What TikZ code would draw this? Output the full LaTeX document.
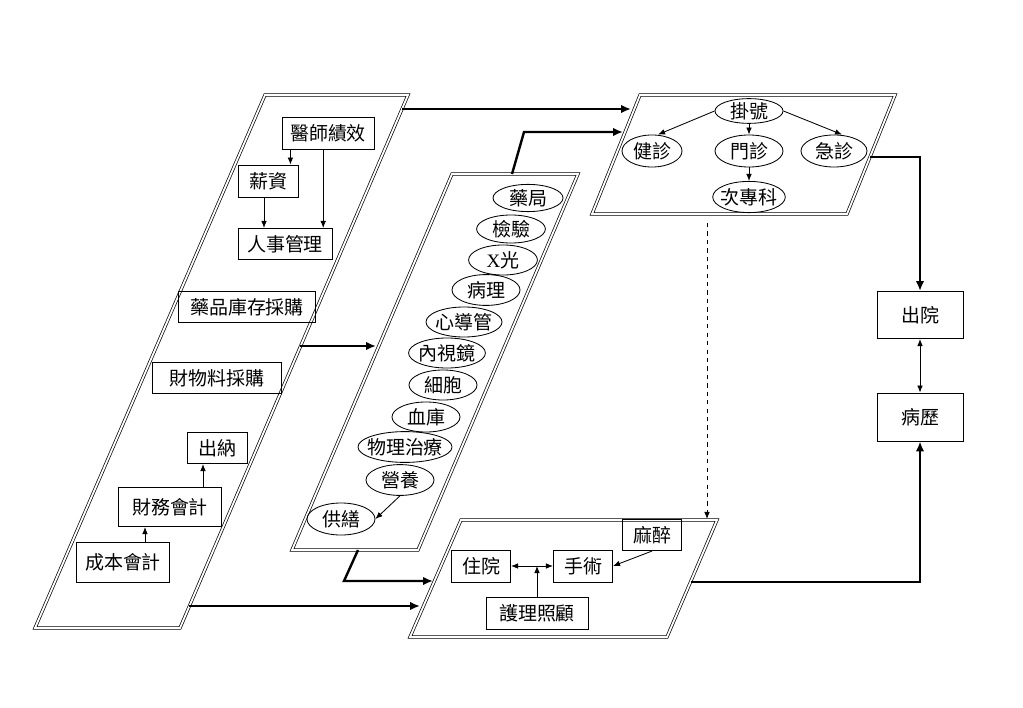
\documentclass[tikz,border=0pt]{standalone}
\usepackage{fontspec}
\setmainfont{Noto Sans CJK TC}
\newfontfamily\latin{Liberation Serif}
\usetikzlibrary{shapes.geometric, arrows.meta}

\tikzset{
  box/.style={draw, line width=0.6pt, inner sep=0pt, font=\fontsize{13.5}{15}\selectfont},
  oval/.style={draw, ellipse, line width=0.6pt, inner sep=0pt, font=\fontsize{13.5}{15}\selectfont},
  panel/.style={draw=black, double=white, double distance=1.3pt, line width=0.5pt},
  flow/.style={-{Latex[length=7pt,width=6pt]}, line width=1.7pt},
  link/.style={-{Latex[length=5pt,width=4pt]}, line width=0.6pt},
  twoway/.style={{Latex[length=5pt,width=4pt]}-{Latex[length=5pt,width=4pt]}, line width=0.6pt},
}

\begin{document}
\begin{tikzpicture}[x=0.025cm, y=-0.025cm]
\useasboundingbox (0,0) rectangle (1023,708);

% parallelograms
\draw[panel] (265,95) -- (408,95) -- (180,628) -- (35,628) -- cycle;
\draw[panel] (452,174) -- (578,174) -- (418,550) -- (292,550) -- cycle;
\draw[panel] (640,95) -- (895,95) -- (847,214) -- (592,214) -- cycle;
\draw[panel] (461,520) -- (717,520) -- (667,637) -- (410,637) -- cycle;

% left panel
\node[box, minimum width=2.3cm, minimum height=0.8cm] (yishi) at (328,133) {醫師績效};
\node[box, minimum width=1.5cm, minimum height=0.8cm] (xinzi) at (268,181) {薪資};
\node[box, minimum width=2.35cm, minimum height=0.78cm] (renshi) at (285,244) {人事管理};
\node[box, minimum width=3.43cm, minimum height=0.78cm] (yaopin) at (247,307) {藥品庫存採購};
\node[box, minimum width=3.23cm, minimum height=0.78cm] (caiwuliao) at (217,378) {財物料採購};
\node[box, minimum width=1.5cm, minimum height=0.78cm] (chuna) at (217,448) {出納};
\node[box, minimum width=2.58cm, minimum height=0.98cm] (caiwu) at (170,507) {財務會計};
\node[box, minimum width=2.33cm, minimum height=1cm] (chengben) at (123,562) {成本會計};
\draw[link] ([xshift=-0.2cm]xinzi.north east |- yishi.south) -- ([xshift=-0.2cm]xinzi.north east);
\draw[link] ([xshift=-0.12cm]yishi.south) -- ([xshift=-0.12cm]yishi.south |- renshi.north);
\draw[link] ([xshift=-0.1cm]xinzi.south) -- ([xshift=-0.1cm]xinzi.south |- renshi.north);
\draw[link] ([xshift=-0.35cm]chuna.south |- caiwu.north) -- ([xshift=-0.35cm]chuna.south);
\draw[link] ([xshift=0.55cm]chengben.north) -- ([xshift=0.55cm]chengben.north |- caiwu.south);

% middle panel
\node[oval, minimum width=1.75cm, minimum height=0.68cm] (yaoju) at (528,198) {藥局};
\node[oval, minimum width=1.72cm, minimum height=0.7cm] (jianyan) at (511,229) {檢驗};
\node[oval, minimum width=1.72cm, minimum height=0.75cm] (xguang) at (503,260) {{\latin X}光};
\node[oval, minimum width=1.7cm, minimum height=0.77cm] (bingli2) at (486,290) {病理};
\node[oval, minimum width=1.9cm, minimum height=0.75cm, inner xsep=-2pt] (xindao) at (464,322) {心導管};
\node[oval, minimum width=1.92cm, minimum height=0.75cm, inner xsep=-2pt] (neishi) at (447,353) {內視鏡};
\node[oval, minimum width=1.7cm, minimum height=0.75cm] (xibao) at (443,385) {細胞};
\node[oval, minimum width=1.7cm, minimum height=0.75cm] (xueku) at (426,417) {血庫};
\node[oval, minimum width=2.35cm, minimum height=0.77cm, inner xsep=-4pt] (wuli) at (405,447) {物理治療};
\node[oval, minimum width=1.7cm, minimum height=0.77cm] (yingyang) at (400,480) {營養};
\node[oval, minimum width=1.7cm, minimum height=0.8cm] (gongshan) at (341,519) {供繕};
\draw[link] (yingyang.south) -- (gongshan.east);

% top right panel
\node[oval, minimum width=1.7cm, minimum height=0.58cm] (guahao) at (749,111) {掛號};
\node[oval, minimum width=1.5cm, minimum height=0.8cm] (jianzhen) at (652,151) {健診};
\node[oval, minimum width=1.7cm, minimum height=0.8cm] (menzhen) at (749,151) {門診};
\node[oval, minimum width=1.65cm, minimum height=0.8cm] (jizhen) at (834,151) {急診};
\node[oval, minimum width=1.73cm, minimum height=0.78cm, inner xsep=-2pt] (zhuanke) at (749,197) {次專科};
\draw[link] (guahao.west) -- ([xshift=0.15cm]jianzhen.north);
\draw[link] (guahao.south) -- (menzhen.north);
\draw[link] (guahao.east) -- ([xshift=0.2cm]jizhen.north);
\draw[link] (menzhen.south) -- (zhuanke.north);

% bottom panel
\node[box, minimum width=1.48cm, minimum height=0.78cm] (mazui) at (652,535) {麻醉};
\node[box, minimum width=1.48cm, minimum height=0.8cm] (zhuyuan) at (481,566) {住院};
\node[box, minimum width=1.48cm, minimum height=0.8cm] (shoushu) at (583,566) {手術};
\node[box, minimum width=2.55cm, minimum height=0.8cm] (huli) at (537,613) {護理照顧};
\draw[twoway] (zhuyuan.east) -- (shoushu.west);
\draw[link] (huli.north) -- (huli.north |- zhuyuan.east);
\draw[link] (mazui.south) -- (shoushu.east);

% right boxes
\node[box, minimum width=2.15cm, minimum height=1.18cm] (chuyuan) at (920,315) {出院};
\node[box, minimum width=2.15cm, minimum height=1.2cm] (bingli) at (920,417) {病歷};
\draw[twoway] (chuyuan) -- (bingli);

% connectors between panels
\coordinate (lpA) at (402,109);
\coordinate (lpB) at (300,346);
\coordinate (lpC) at (189,606);
\coordinate (mpA) at (376,346);
\coordinate (mpTop) at (512,174);
\coordinate (mpBend) at (524,132);
\coordinate (mpBot) at (358,550);
\coordinate (mpKnee) at (344,581);
\coordinate (trA) at (631,109);
\coordinate (trB) at (623,132);
\coordinate (trOut) at (870,157);
\coordinate (trDash) at (707,223);
\coordinate (bpA) at (433,581);
\coordinate (bpB) at (420,606);
\coordinate (bpDash) at (707,519);
\coordinate (bpOut) at (691,582);
\draw[flow] (lpA) -- (trA);
\draw[flow] (mpTop) -- (mpBend) -- (trB);
\draw[flow] (lpB) -- (mpA);
\draw[flow] (mpBot) -- (mpKnee) -- (bpA);
\draw[flow] (lpC) -- (bpB);
\draw[flow] (trOut) -| (chuyuan.north);
\draw[flow] (bpOut) -| (bingli.south);
\draw[link, dashed] (trDash) -- (bpDash);
\end{tikzpicture}
\end{document}
